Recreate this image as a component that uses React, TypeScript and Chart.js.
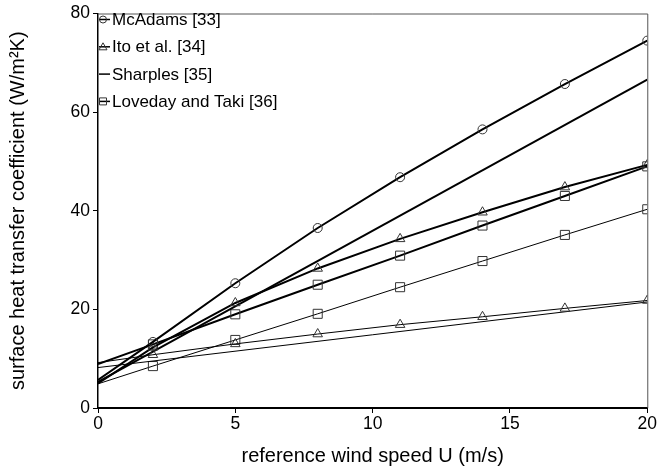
import React, { useEffect, useRef } from "react";
import { Chart, registerables } from "chart.js";

Chart.register(...registerables);

const windSpeed = [0, 2, 5, 8, 11, 14, 17, 20];
const mcAdams = [5.7, 13.4, 25.3, 36.5, 46.8, 56.5, 65.7, 74.5];
const itoWindward = [5.0, 12.3, 21.3, 28.3, 34.3, 39.7, 44.8, 49.3];
const itoLeeward = [9.2, 10.8, 13.0, 15.0, 16.9, 18.5, 20.2, 21.8];
const sharplesSpeed = [0, 20];
const sharplesWindward = [5.3, 66.6];
const sharplesLeeward = [8.2, 21.5];
const lovedayWindward = [8.9, 12.9, 19.0, 25.0, 30.9, 37.0, 43.0, 49.0];
const lovedayLeeward = [4.9, 8.5, 13.8, 19.1, 24.5, 29.8, 35.1, 40.3];

const xTicks = [0, 5, 10, 15, 20];
const yTicks = [0, 20, 40, 60, 80];

const legendItems = [
  { label: "McAdams [33]", style: "circle" },
  { label: "Ito et al. [34]", style: "triangle" },
  { label: "Sharples [35]", style: "none" },
  { label: "Loveday and Taki [36]", style: "rect" },
];

const FONT = "'Liberation Sans', Arial, sans-serif";

function pts(xs: number[], ys: number[]) {
  return xs.map((x, i) => ({ x, y: ys[i] }));
}

function series(
  xs: number[],
  ys: number[],
  width: number,
  style: string | false,
  radius: number
) {
  return {
    data: pts(xs, ys),
    borderColor: "#000",
    borderWidth: width,
    pointStyle: style,
    pointRadius: xs.map((x) => (x === 0 || !style ? 0 : radius)),
    pointBorderColor: "#333",
    pointBackgroundColor: "rgba(0,0,0,0)",
    pointBorderWidth: 1,
    tension: 0,
    fill: false,
  };
}

const framePlugin = {
  id: "frameLegend",
  afterDraw(chart: any) {
    const { ctx, chartArea } = chart;
    const { left, right, top, bottom } = chartArea;
    ctx.save();
    ctx.strokeStyle = "#555";
    ctx.lineWidth = 1;
    ctx.beginPath();
    ctx.moveTo(left, top + 0.5);
    ctx.lineTo(right + 0.5, top + 0.5);
    ctx.lineTo(right + 0.5, bottom);
    ctx.stroke();
    ctx.font = `17px ${FONT}`;
    ctx.textBaseline = "middle";
    ctx.fillStyle = "#000";
    legendItems.forEach((item, i) => {
      const y = top + 6 + i * 27.3;
      ctx.strokeStyle = "#000";
      ctx.lineWidth = 1.5;
      ctx.beginPath();
      ctx.moveTo(left + 1, y);
      ctx.lineTo(left + 12, y);
      ctx.stroke();
      ctx.strokeStyle = "#333";
      ctx.lineWidth = 1;
      const cx = left + 5;
      ctx.beginPath();
      if (item.style === "circle") {
        ctx.arc(cx, y, 3.5, 0, Math.PI * 2);
      } else if (item.style === "triangle") {
        ctx.moveTo(cx, y - 4);
        ctx.lineTo(cx + 4, y + 3);
        ctx.lineTo(cx - 4, y + 3);
        ctx.closePath();
      } else if (item.style === "rect") {
        ctx.rect(cx - 3.5, y - 3.5, 7, 7);
      }
      ctx.stroke();
      ctx.fillText(item.label, left + 14, y + 1);
    });
    ctx.restore();
  },
};

export default function App() {
  const ref = useRef<HTMLCanvasElement | null>(null);
  useEffect(() => {
    if (!ref.current) return;
    const chart = new Chart(ref.current, {
      type: "line",
      data: {
        datasets: [
          series(windSpeed, mcAdams, 2, "circle", 4.5),
          series(windSpeed, itoWindward, 2, "triangle", 5.5),
          series(windSpeed, itoLeeward, 1, "triangle", 5.5),
          series(sharplesSpeed, sharplesWindward, 2, false, 0),
          series(sharplesSpeed, sharplesLeeward, 1, false, 0),
          series(windSpeed, lovedayWindward, 2, "rect", 6.4),
          series(windSpeed, lovedayLeeward, 1, "rect", 6.4),
        ] as any,
      },
      plugins: [framePlugin],
      options: {
        animation: false,
        responsive: false,
        maintainAspectRatio: false,
        layout: { padding: { top: 10, right: 10, left: 0, bottom: 0 } },
        plugins: { legend: { display: false }, tooltip: { enabled: false } },
        scales: {
          x: {
            type: "linear",
            min: 0,
            max: 20,
            afterBuildTicks: (s: any) => {
              s.ticks = xTicks.map((v) => ({ value: v }));
            },
            afterFit: (s: any) => {
              s.height = 60;
            },
            grid: {
              drawOnChartArea: false,
              tickLength: 5,
              color: "#000",
              lineWidth: 1,
            },
            border: { color: "#000", width: 2 },
            ticks: {
              color: "#000",
              font: { family: FONT, size: 17.5 },
              padding: 1,
              maxRotation: 0,
            },
            title: {
              display: true,
              text: "reference wind speed U (m/s)",
              color: "#000",
              font: { family: FONT, size: 20 },
              padding: { top: 8, bottom: 0 },
            },
          },
          y: {
            type: "linear",
            min: 0,
            max: 80,
            afterBuildTicks: (s: any) => {
              s.ticks = yTicks.map((v) => ({ value: v }));
            },
            afterFit: (s: any) => {
              s.width = 98;
            },
            grid: {
              drawOnChartArea: false,
              tickLength: 5,
              color: "#000",
              lineWidth: 1,
            },
            border: { color: "#000", width: 1.5 },
            ticks: {
              color: "#000",
              font: { family: FONT, size: 17.5 },
              padding: 3,
            },
            title: {
              display: true,
              text: "surface heat transfer coefficient (W/m\u00B2K)",
              color: "#000",
              font: { family: FONT, size: 20 },
              padding: { top: 6, bottom: 0 },
            },
          },
        },
      },
    } as any);
    return () => chart.destroy();
  }, []);
  return (
    <div style={{ position: "fixed", left: 0, top: 0, width: 658, height: 468, background: "#fff" }}>
      <canvas ref={ref} width={658} height={468} style={{ width: 658, height: 468 }} />
    </div>
  );
}
